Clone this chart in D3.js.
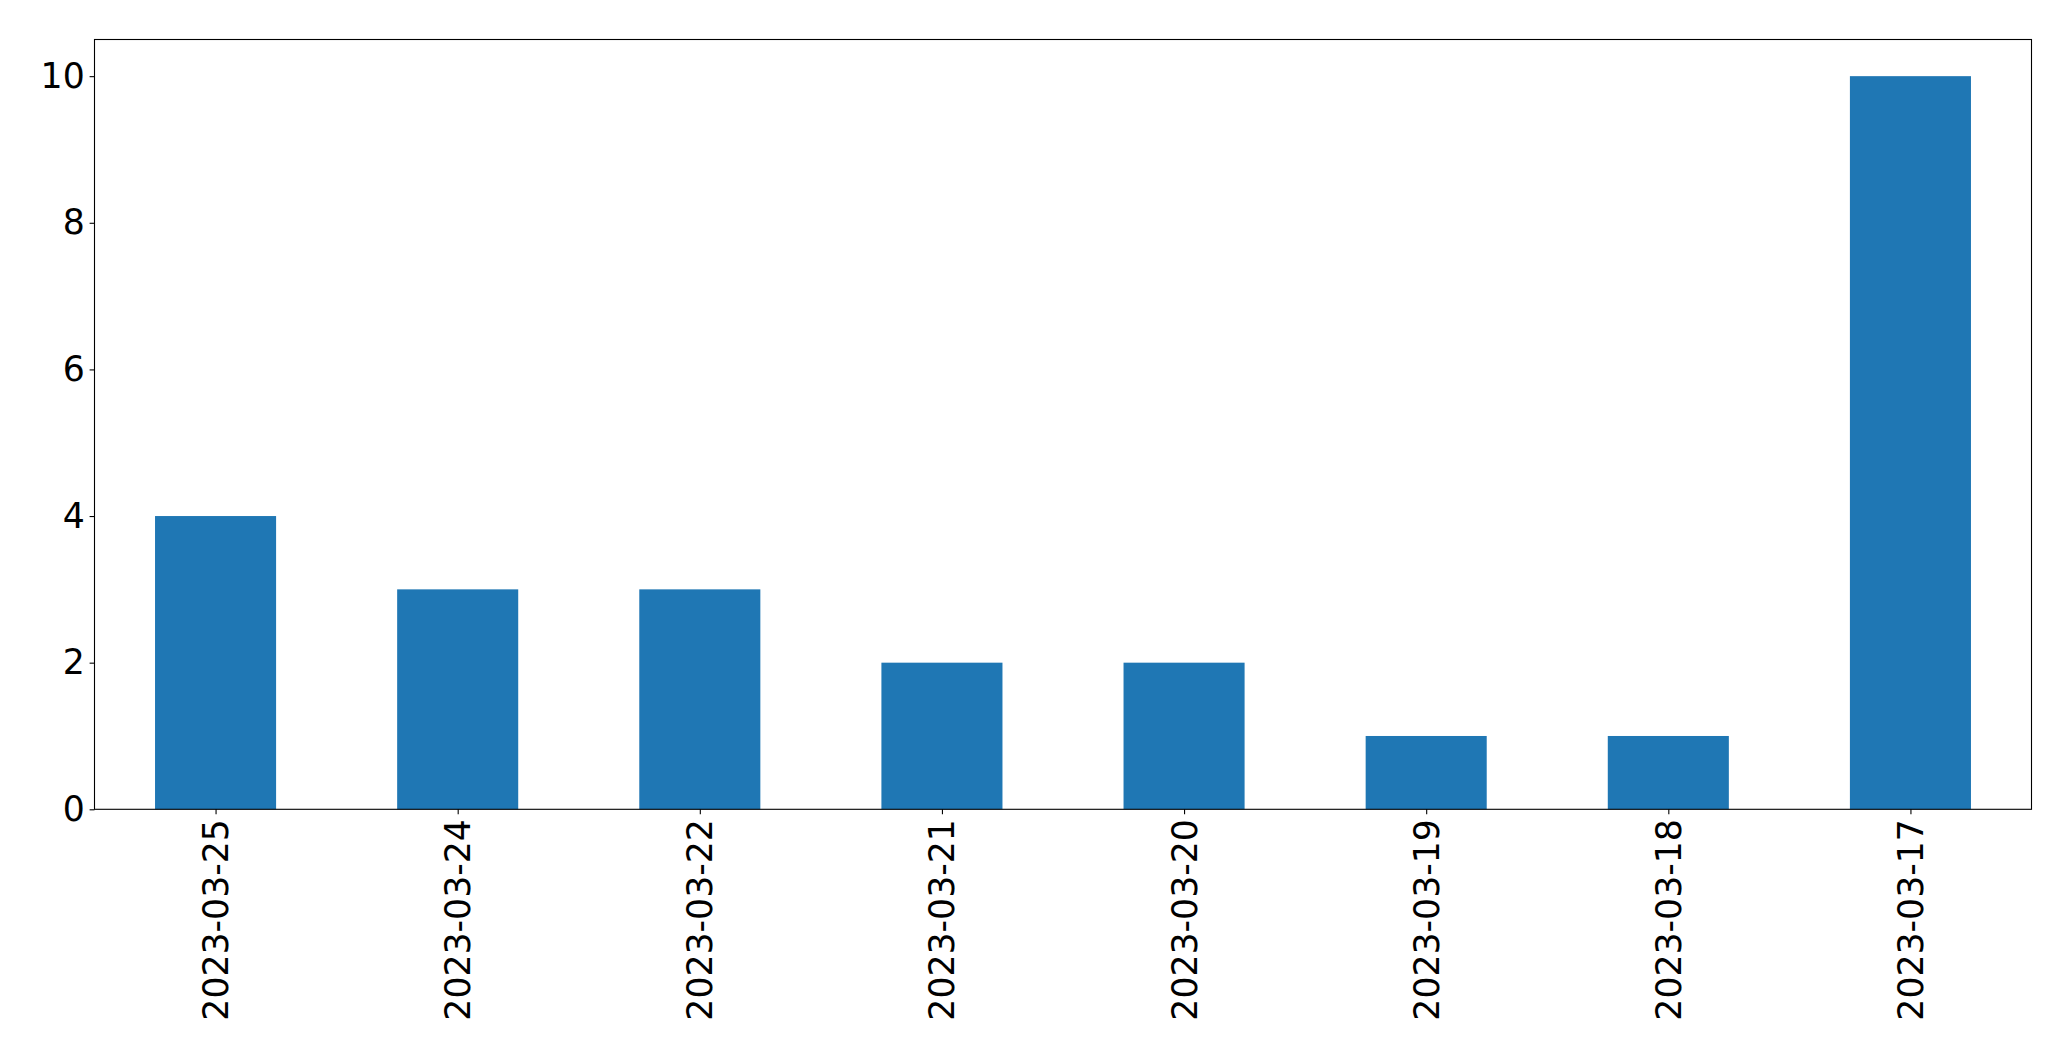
<!DOCTYPE html>
<html>
<head>
<meta charset="utf-8">
<script src="https://cdn.jsdelivr.net/npm/d3@7"></script>
<style>
  html, body { margin: 0; padding: 0; background: #fff; }
  svg { display: block; }
  text { font-family: "DejaVu Sans", sans-serif; fill: #000; }
</style>
</head>
<body>
<svg id="chart" width="2071" height="1061"></svg>
<script>
const categories = ["2023-03-25", "2023-03-24", "2023-03-22", "2023-03-21", "2023-03-20", "2023-03-19", "2023-03-18", "2023-03-17"];
const values = [4, 3, 3, 2, 2, 1, 1, 10];
const yTicks = [0, 2, 4, 6, 8, 10];

const W = 2071, H = 1061;
const margin = { left: 94.5, right: W - 2031.5, top: 39.5, bottom: H - 809.3 };
const iw = W - margin.left - margin.right;
const ih = H - margin.top - margin.bottom;
const fontSize = 34.7;
const color = "#1f77b4";

const svg = d3.select("#chart");
const g = svg.append("g").attr("transform", `translate(${margin.left},${margin.top})`);

const x = d3.scaleLinear().domain([-0.5, categories.length - 0.5]).range([0, iw]);
const y = d3.scaleLinear().domain([0, 10.5]).range([ih, 0]);
const barW = x(0.25) - x(-0.25);

g.selectAll("rect.bar").data(values).enter().append("rect")
  .attr("class", "bar")
  .attr("x", (d, i) => x(i) - barW / 2)
  .attr("width", barW)
  .attr("y", d => y(d))
  .attr("height", d => y(0) - y(d))
  .attr("fill", color);

// Y axis
const yAxis = d3.axisLeft(y).tickValues(yTicks).tickSize(4.9).tickPadding(4.9).tickFormat(d3.format("d"));
const yg = g.append("g").call(yAxis);
yg.select(".domain").remove();
yg.selectAll("line").attr("stroke", "#000").attr("stroke-width", 1.1);
yg.selectAll("text").style("font-size", fontSize + "px").style("font-family", "DejaVu Sans");

// X axis
const xAxis = d3.axisBottom(x).tickValues(d3.range(categories.length)).tickSize(4.9).tickPadding(0).tickFormat(i => categories[i]);
const xg = g.append("g").attr("transform", `translate(0,${ih})`).call(xAxis);
xg.select(".domain").remove();
xg.selectAll("line").attr("stroke", "#000").attr("stroke-width", 1.1);
xg.selectAll("text")
  .style("font-size", fontSize + "px")
  .style("font-family", "DejaVu Sans")
  .attr("text-anchor", "end")
  .attr("dy", null)
  .attr("y", null)
  .attr("dominant-baseline", "central")
  .attr("transform", "translate(0,9.8) rotate(-90)");

// Frame
g.append("rect").attr("x", 0).attr("y", 0).attr("width", iw).attr("height", ih)
  .attr("fill", "none").attr("stroke", "#000").attr("stroke-width", 1.1);
</script>
</body>
</html>
